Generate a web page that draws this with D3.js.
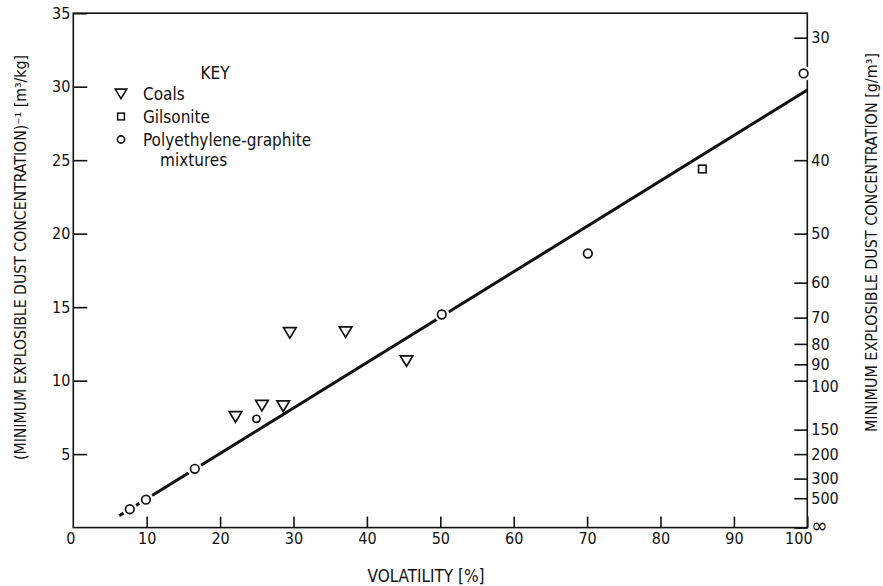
<!DOCTYPE html>
<html>
<head>
<meta charset="utf-8">
<script src="https://cdn.jsdelivr.net/npm/d3@7"></script>
<style>
  html, body { margin: 0; padding: 0; background: #fff; }
  svg { display: block; }
  text { font-family: "DejaVu Sans Condensed", "Liberation Sans Narrow", "DejaVu Sans", sans-serif; fill: #111; }
</style>
</head>
<body>
<svg id="chart" width="883" height="586"></svg>
<script>
// Volatility [%] versus reciprocal minimum explosible dust concentration [m³/kg]
const coalsX = [22.1, 25.7, 28.6, 29.5, 37.1, 45.4];
const coalsY = [7.56, 8.33, 8.29, 13.28, 13.33, 11.36];

const gilsoniteX = [85.7];
const gilsoniteY = [24.4];

const polyX = [7.7, 9.9, 16.55, 24.95, 50.2, 70.1, 99.5];
const polyY = [1.25, 1.9, 4.0, 7.4, 14.5, 18.65, 30.9];

// straight-line fit drawn through the data
const fitX = [6.25, 100];
const fitY = [0.8, 29.77];

const xTicks = [0, 10, 20, 30, 40, 50, 60, 70, 80, 90, 100];
const yTicks = [0, 5, 10, 15, 20, 25, 30, 35];
// right axis: minimum explosible concentration in g/m³ (reciprocal of left axis)
const concTicks = [30, 40, 50, 60, 70, 80, 90, 100, 150, 200, 300, 500, Infinity];

const legendLabels = ["Coals", "Gilsonite", "Polyethylene-graphite"];

const svg = d3.select("#chart");
const ink = "#111";

const x = d3.scaleLinear().domain([0, 100]).range([73.3, 807.3]);
const y = d3.scaleLinear().domain([0, 35]).range([527.6, 13.2]);

const axisFont = 16;

// frame
svg.append("rect")
  .attr("x", x(0)).attr("y", y(35))
  .attr("width", x(100) - x(0)).attr("height", y(0) - y(35))
  .attr("fill", "none").attr("stroke", ink).attr("stroke-width", 1.6);

// bottom axis, ticks pointing inward
const gx = svg.append("g").attr("transform", `translate(0,${y(0)})`)
  .call(d3.axisBottom(x).tickValues(xTicks).tickSizeInner(-11).tickSizeOuter(0).tickPadding(5)
    .tickFormat(d3.format("d")));
gx.select(".domain").remove();
gx.selectAll(".tick line").attr("stroke", ink).attr("stroke-width", 1.6);
gx.selectAll(".tick text").attr("font-size", axisFont).attr("fill", ink)
  .attr("dx", d => d === 0 ? -3 : d === 100 ? -9 : 0);
gx.selectAll(".tick").filter(d => d === 0).select("line").remove();

// left axis, ticks pointing inward
const gy = svg.append("g").attr("transform", `translate(${x(0)},0)`)
  .call(d3.axisLeft(y).tickValues(yTicks).tickSizeInner(-14).tickSizeOuter(0).tickPadding(3)
    .tickFormat(d3.format("d")));
gy.select(".domain").remove();
gy.selectAll(".tick line").attr("stroke", ink).attr("stroke-width", 1.6);
gy.selectAll(".tick text").attr("font-size", axisFont).attr("fill", ink);
gy.selectAll(".tick").filter(d => d === 0).remove();

// right axis: reciprocal concentration scale
const concToLeft = c => (isFinite(c) ? 1000 / c : 0);
const gr = svg.append("g").attr("transform", `translate(${x(100)},0)`)
  .call(d3.axisRight(y).tickValues(concTicks.map(concToLeft)).tickSizeInner(-13).tickSizeOuter(0).tickPadding(4)
    .tickFormat((d, i) => isFinite(concTicks[i]) ? String(concTicks[i]) : "∞"));
gr.select(".domain").remove();
gr.selectAll(".tick line").attr("stroke", ink).attr("stroke-width", 1.6);
gr.selectAll(".tick text").attr("font-size", axisFont).attr("fill", ink)
  .attr("dy", (d, i) => concTicks[i] === 100 ? "0.68em" : concTicks[i] === 90 ? "0.3em" : "0.32em")
  .filter((d, i) => !isFinite(concTicks[i])).attr("font-size", 22).attr("dy", "0.22em");

// axis titles
svg.append("text")
  .attr("transform", `translate(26,257.5) rotate(-90)`)
  .attr("text-anchor", "middle").attr("font-size", 15)
  .attr("textLength", 405).attr("lengthAdjust", "spacingAndGlyphs")
  .text("(MINIMUM EXPLOSIBLE DUST CONCENTRATION)⁻¹ [m³/kg]");

svg.append("text")
  .attr("transform", `translate(877,242.5) rotate(-90)`)
  .attr("text-anchor", "middle").attr("font-size", 15)
  .attr("textLength", 379).attr("lengthAdjust", "spacingAndGlyphs")
  .text("MINIMUM EXPLOSIBLE DUST CONCENTRATION [g/m³]");

svg.append("text")
  .attr("x", 426).attr("y", 582)
  .attr("text-anchor", "middle").attr("font-size", 17)
  .attr("textLength", 117).attr("lengthAdjust", "spacingAndGlyphs")
  .text("VOLATILITY [%]");

// fitted line
const line = d3.line().x(d => x(d[0])).y(d => y(d[1]));
svg.append("path")
  .datum(d3.zip(fitX, fitY))
  .attr("d", line)
  .attr("fill", "none").attr("stroke", ink).attr("stroke-width", 3);

// marker shapes
const triPath = s => `M${-s * 0.55},${-s * 0.42}L${s * 0.55},${-s * 0.42}L0,${s * 0.5}Z`;

const polyPts = d3.zip(polyX, polyY);
// white halos break the line around the circles
svg.append("g").selectAll("circle").data(polyPts).join("circle")
  .attr("cx", d => x(d[0])).attr("cy", d => y(d[1])).attr("r", 7.5)
  .attr("fill", "#fff");

svg.append("g").selectAll("circle").data(polyPts).join("circle")
  .attr("cx", d => x(d[0])).attr("cy", d => y(d[1]))
  .attr("r", (d, i) => i === 3 ? 3.6 : 4.3)
  .attr("fill", "#fff").attr("stroke", ink).attr("stroke-width", 1.7);

svg.append("g").selectAll("path").data(d3.zip(coalsX, coalsY)).join("path")
  .attr("transform", d => `translate(${x(d[0])},${y(d[1])})`)
  .attr("d", triPath(11.5))
  .attr("fill", "#fff").attr("stroke", ink).attr("stroke-width", 1.7).attr("stroke-linejoin", "miter");

svg.append("g").selectAll("rect").data(d3.zip(gilsoniteX, gilsoniteY)).join("rect")
  .attr("x", d => x(d[0]) - 3.8).attr("y", d => y(d[1]) - 3.8)
  .attr("width", 7.6).attr("height", 7.6)
  .attr("fill", "#fff").attr("stroke", ink).attr("stroke-width", 1.6);

// key
const key = svg.append("g");
key.append("text").attr("x", 215).attr("y", 79).attr("text-anchor", "middle")
  .attr("font-size", 17).text("KEY");
const rowY = [93.5, 116.5, 139.5];
const symX = 121;
key.append("path").attr("transform", `translate(${symX},${rowY[0]})`).attr("d", triPath(10.5))
  .attr("fill", "#fff").attr("stroke", ink).attr("stroke-width", 1.6);
key.append("rect").attr("x", symX - 3.4).attr("y", rowY[1] - 3.4).attr("width", 6.8).attr("height", 6.8)
  .attr("fill", "#fff").attr("stroke", ink).attr("stroke-width", 1.5);
key.append("circle").attr("cx", symX).attr("cy", rowY[2]).attr("r", 3.6)
  .attr("fill", "#fff").attr("stroke", ink).attr("stroke-width", 1.6);
key.selectAll("text.lab").data(legendLabels).join("text").attr("class", "lab")
  .attr("x", 143).attr("y", (d, i) => rowY[i]).attr("dy", "0.36em")
  .attr("font-size", 17).text(d => d);
key.append("text").attr("x", 160).attr("y", 160).attr("dy", "0.36em")
  .attr("font-size", 17).text("mixtures");
</script>
</body>
</html>
